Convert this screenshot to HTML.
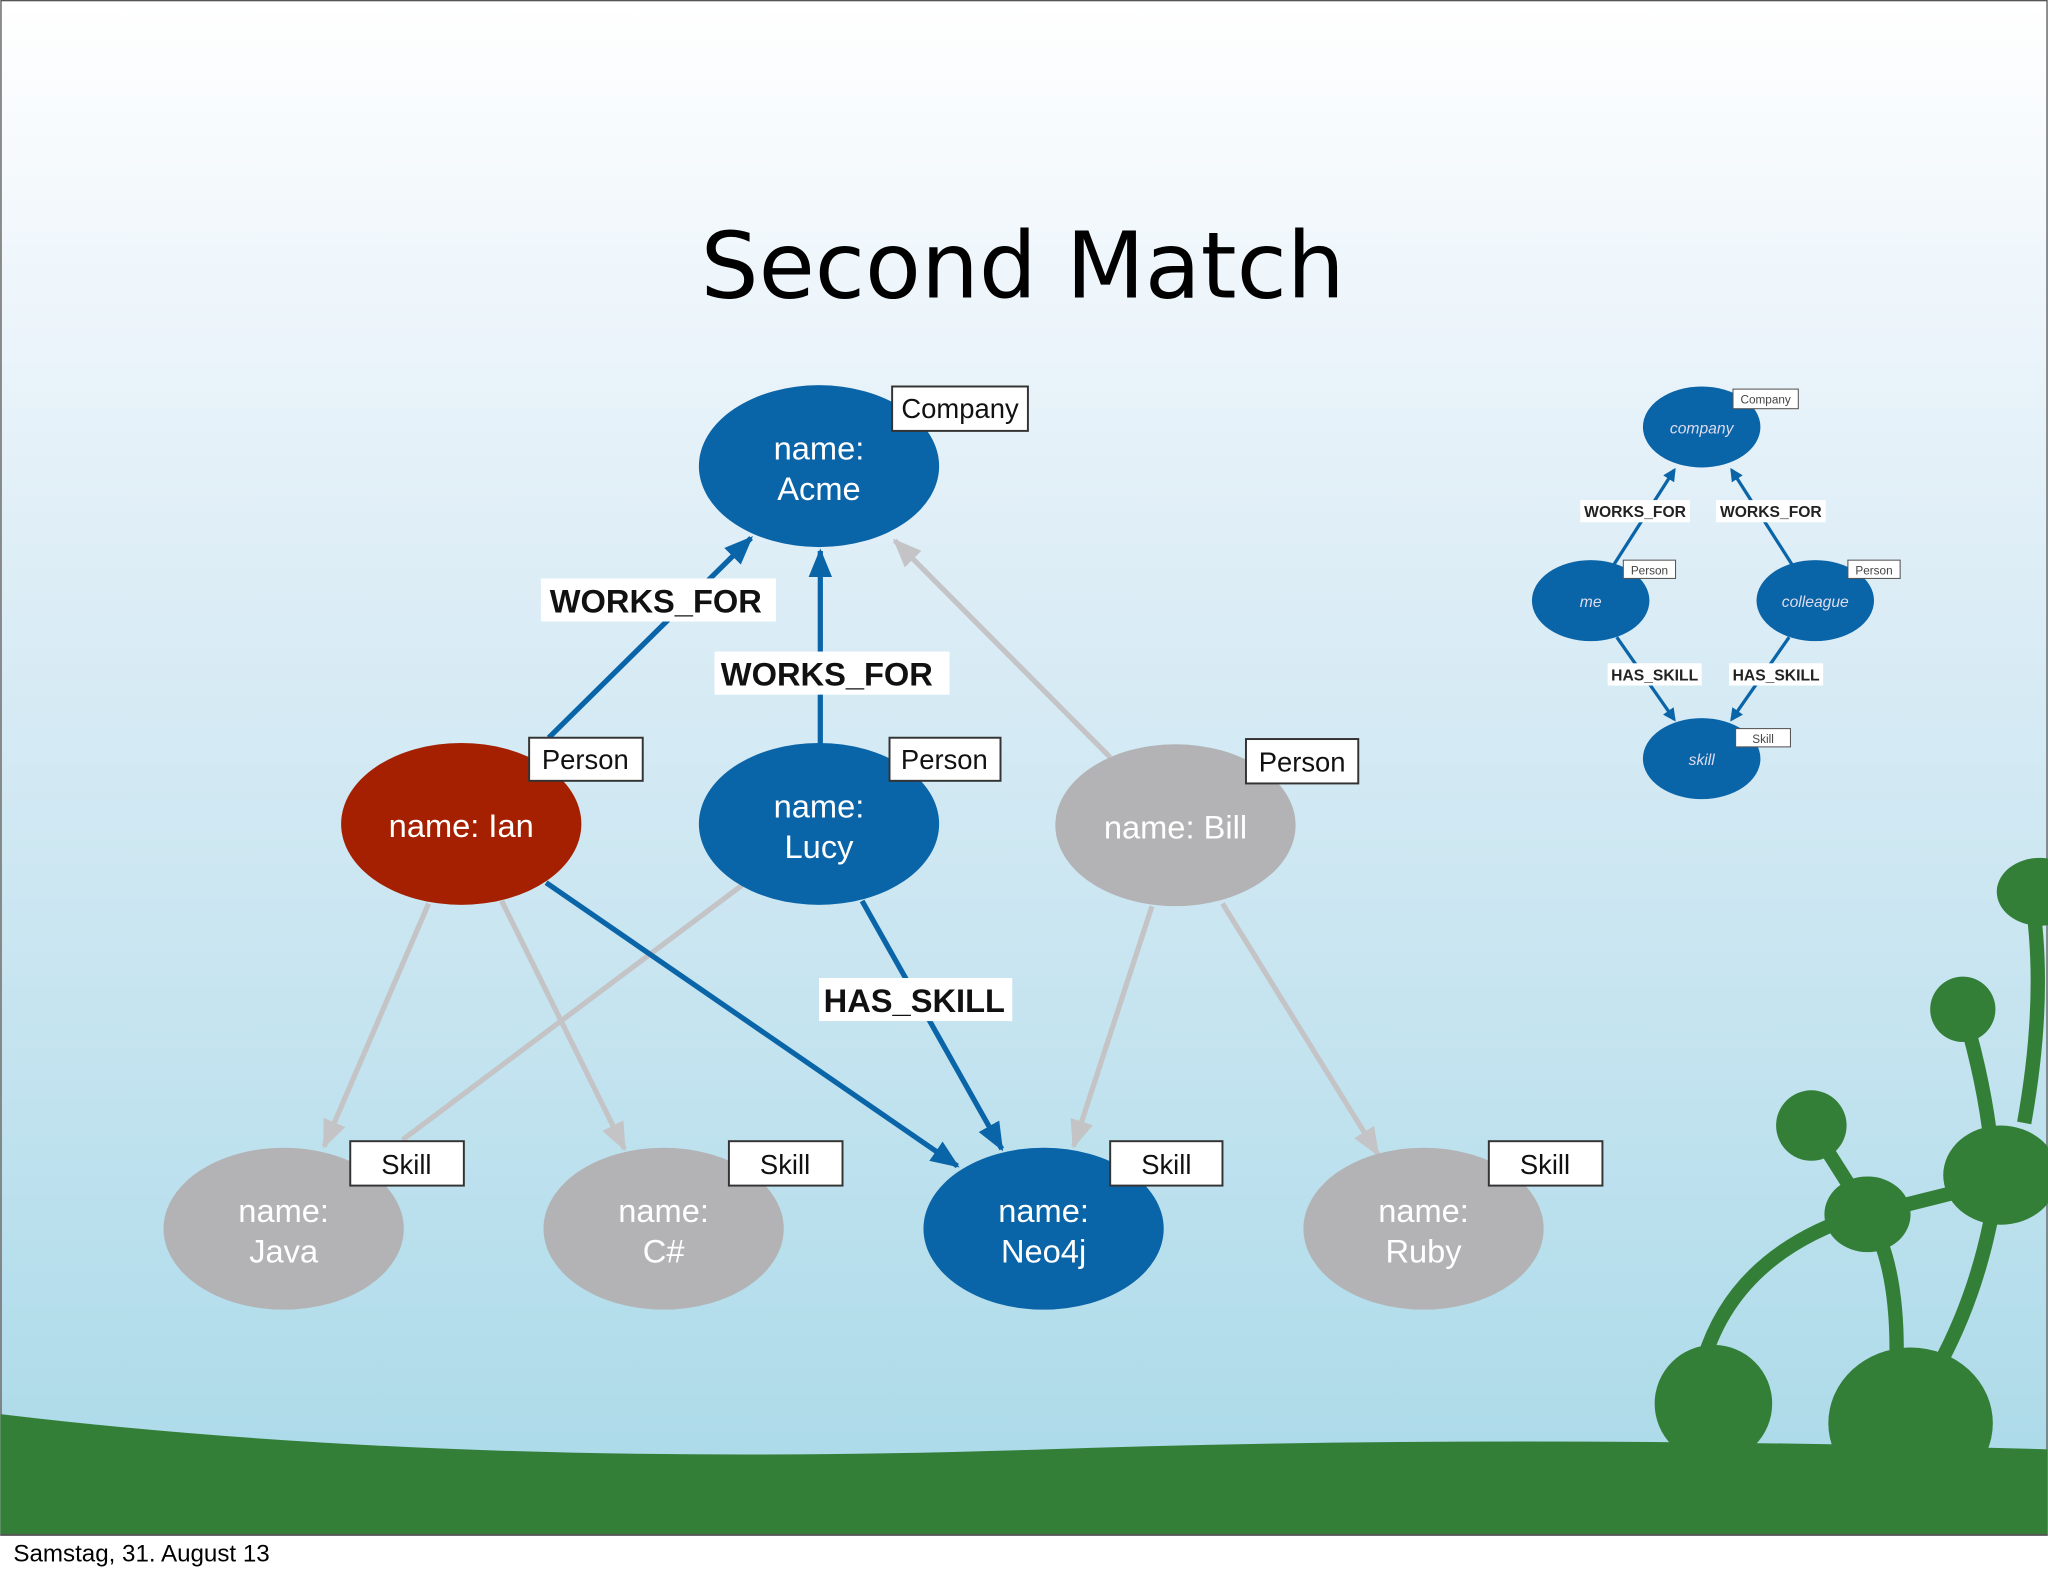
<!DOCTYPE html>
<html><head><meta charset="utf-8"><style>
html,body{margin:0;padding:0;background:#fff}
svg{display:block}
</style></head><body>
<svg width="2048" height="1576" viewBox="0 0 1568 1207" xmlns="http://www.w3.org/2000/svg" font-family="'Liberation Sans', sans-serif">
<defs>
<linearGradient id="bg" x1="0" y1="0" x2="0" y2="1">
<stop offset="0" stop-color="#ffffff"/>
<stop offset="0.1" stop-color="#f6fafd"/>
<stop offset="0.35" stop-color="#dfeef7"/>
<stop offset="1" stop-color="#a9d9e8"/>
</linearGradient>
<marker id="ab" markerWidth="10" markerHeight="10" refX="8" refY="5" orient="auto" markerUnits="userSpaceOnUse" viewBox="0 0 10 10"><path d="M0,0 L10,5 L0,10 z" fill="#0a64a8"/></marker>
<marker id="abl" markerWidth="22" markerHeight="18" refX="20" refY="9" orient="auto" markerUnits="userSpaceOnUse"><path d="M0,0 L22,9 L0,18 z" fill="#0a64a8"/></marker>
<marker id="agl" markerWidth="22" markerHeight="18" refX="20" refY="9" orient="auto" markerUnits="userSpaceOnUse"><path d="M0,0 L22,9 L0,18 z" fill="#c4c4c6"/></marker>
</defs>
<rect x="0" y="0" width="1568" height="1176" fill="url(#bg)"/>
<rect x="0.5" y="0.5" width="1567" height="1175" fill="none" stroke="#555" stroke-width="1"/>
<!-- decor -->
<g fill="#347f38" stroke="#347f38">
<path d="M0,1083 Q350,1125 800,1110 Q1150,1098 1568,1110 L1568,1175 L0,1175 z" stroke="none"/>
<circle cx="1312" cy="1075" r="45" stroke="none"/>
<ellipse cx="1463" cy="1090" rx="63" ry="58" stroke="none"/>
<g fill="none" stroke-width="11">
<path d="M1305,1040 Q1330,960 1425,930"/>
<path d="M1452,1050 Q1455,970 1430,930"/>
<path d="M1485,1045 Q1520,980 1530,900"/>
<path d="M1430,930 L1530,905"/>
<path d="M1387,862 L1430,930"/>
<path d="M1503,773 Q1520,830 1525,880"/>
<path d="M1555,683 Q1568,760 1550,860"/>
</g>
<circle cx="1387" cy="862" r="27" stroke="none"/>
<ellipse cx="1430" cy="930" rx="33" ry="29" stroke="none"/>
<ellipse cx="1532" cy="900" rx="44" ry="38" stroke="none"/>
<circle cx="1503" cy="773" r="25" stroke="none"/>
<ellipse cx="1562" cy="683" rx="33" ry="26" stroke="none"/>
</g>
<line x1="0" y1="1175.5" x2="1568" y2="1175.5" stroke="#555" stroke-width="1.5"/>
<text x="10" y="1196" font-size="18.5" fill="#000">Samstag, 31. August 13</text>
<text x="783" y="228" font-size="70" text-anchor="middle" fill="#000" font-family="'DejaVu Sans', sans-serif">Second Match</text>

<!-- edges -->
<g stroke-width="4" fill="none">
<line x1="850" y1="580" x2="685" y2="414" stroke="#c4c4c6" marker-end="url(#agl)"/>
<line x1="328" y1="692" x2="248" y2="878" stroke="#c4c4c6" marker-end="url(#agl)"/>
<line x1="384" y1="690" x2="478" y2="880" stroke="#c4c4c6" marker-end="url(#agl)"/>
<line x1="568" y1="678" x2="308" y2="873" stroke="#c4c4c6"/>
<line x1="882" y1="694" x2="822" y2="878" stroke="#c4c4c6" marker-end="url(#agl)"/>
<line x1="936" y1="692" x2="1055" y2="884" stroke="#c4c4c6" marker-end="url(#agl)"/>
<line x1="420" y1="565" x2="575" y2="412" stroke="#0a64a8" marker-end="url(#abl)"/>
<line x1="628" y1="570" x2="628" y2="422" stroke="#0a64a8" marker-end="url(#abl)"/>
<line x1="418" y1="676" x2="733" y2="893" stroke="#0a64a8" marker-end="url(#abl)"/>
<line x1="660" y1="690" x2="767" y2="880" stroke="#0a64a8" marker-end="url(#abl)"/>
</g>
<!-- edge labels -->
<g font-size="25" font-weight="bold" fill="#111">
<rect x="414" y="443" width="180" height="33" fill="#fff"/><text x="502" y="469" text-anchor="middle">WORKS_FOR</text>
<rect x="547" y="499" width="180" height="33" fill="#fff"/><text x="633" y="525" text-anchor="middle">WORKS_FOR</text>
<rect x="627" y="749" width="148" height="33" fill="#fff"/><text x="700" y="775" text-anchor="middle">HAS_SKILL</text>
</g>
<!-- nodes -->
<g font-size="25" text-anchor="middle" fill="#fff">
<ellipse cx="627" cy="357" rx="92" ry="62" fill="#0a64a8"/>
<text x="627" y="352">name:</text><text x="627" y="383">Acme</text>
<ellipse cx="353" cy="631" rx="92" ry="62" fill="#a52000"/>
<text x="353" y="641">name: Ian</text>
<ellipse cx="627" cy="631" rx="92" ry="62" fill="#0a64a8"/>
<text x="627" y="626">name:</text><text x="627" y="657">Lucy</text>
<ellipse cx="900" cy="632" rx="92" ry="62" fill="#b3b3b5"/>
<text x="900" y="642">name: Bill</text>
<ellipse cx="217" cy="941" rx="92" ry="62" fill="#b3b3b5"/>
<text x="217" y="936">name:</text><text x="217" y="967">Java</text>
<ellipse cx="508" cy="941" rx="92" ry="62" fill="#b3b3b5"/>
<text x="508" y="936">name:</text><text x="508" y="967">C#</text>
<ellipse cx="799" cy="941" rx="92" ry="62" fill="#0a64a8"/>
<text x="799" y="936">name:</text><text x="799" y="967">Neo4j</text>
<ellipse cx="1090" cy="941" rx="92" ry="62" fill="#b3b3b5"/>
<text x="1090" y="936">name:</text><text x="1090" y="967">Ruby</text>
</g>
<!-- type labels -->
<g font-size="21" text-anchor="middle" fill="#111" stroke-width="1.5">
<rect x="683" y="296" width="104" height="34" fill="#fff" stroke="#333"/><text x="735" y="320">Company</text>
<rect x="405" y="565" width="87" height="33" fill="#fff" stroke="#333"/><text x="448" y="589">Person</text>
<rect x="681" y="565" width="85" height="33" fill="#fff" stroke="#333"/><text x="723" y="589">Person</text>
<rect x="954" y="566" width="86" height="34" fill="#fff" stroke="#333"/><text x="997" y="591">Person</text>
<rect x="268" y="874" width="87" height="34" fill="#fff" stroke="#333"/><text x="311" y="899">Skill</text>
<rect x="558" y="874" width="87" height="34" fill="#fff" stroke="#333"/><text x="601" y="899">Skill</text>
<rect x="850" y="874" width="86" height="34" fill="#fff" stroke="#333"/><text x="893" y="899">Skill</text>
<rect x="1140" y="874" width="87" height="34" fill="#fff" stroke="#333"/><text x="1183" y="899">Skill</text>
</g>
<!-- mini diagram -->
<g stroke="#0a64a8" stroke-width="2.5" fill="none">
<line x1="1236" y1="432" x2="1282" y2="360" marker-end="url(#ab)"/>
<line x1="1372" y1="432" x2="1326" y2="360" marker-end="url(#ab)"/>
<line x1="1238" y1="488" x2="1282" y2="551" marker-end="url(#ab)"/>
<line x1="1370" y1="488" x2="1326" y2="551" marker-end="url(#ab)"/>
</g>
<g font-size="12" font-weight="bold" fill="#222" text-anchor="middle">
<rect x="1210" y="383" width="84" height="17" fill="#fff"/><text x="1252" y="396">WORKS_FOR</text>
<rect x="1314" y="383" width="84" height="17" fill="#fff"/><text x="1356" y="396">WORKS_FOR</text>
<rect x="1231" y="508" width="72" height="17" fill="#fff"/><text x="1267" y="521">HAS_SKILL</text>
<rect x="1324" y="508" width="72" height="17" fill="#fff"/><text x="1360" y="521">HAS_SKILL</text>
</g>
<g font-size="12" font-style="italic" fill="#dde" text-anchor="middle">
<ellipse cx="1303" cy="327" rx="45" ry="31" fill="#0a64a8"/><text x="1303" y="332">company</text>
<ellipse cx="1218" cy="460" rx="45" ry="31" fill="#0a64a8"/><text x="1218" y="465">me</text>
<ellipse cx="1390" cy="460" rx="45" ry="31" fill="#0a64a8"/><text x="1390" y="465">colleague</text>
<ellipse cx="1303" cy="581" rx="45" ry="31" fill="#0a64a8"/><text x="1303" y="586">skill</text>
</g>
<g font-size="9" fill="#444" text-anchor="middle" stroke-width="0.8">
<rect x="1327" y="298" width="50" height="15" fill="#fff" stroke="#555"/><text x="1352" y="309">Company</text>
<rect x="1243" y="429" width="40" height="14" fill="#fff" stroke="#555"/><text x="1263" y="440">Person</text>
<rect x="1415" y="429" width="40" height="14" fill="#fff" stroke="#555"/><text x="1435" y="440">Person</text>
<rect x="1329" y="558" width="42" height="14" fill="#fff" stroke="#555"/><text x="1350" y="569">Skill</text>
</g>
</svg>
</body></html>
